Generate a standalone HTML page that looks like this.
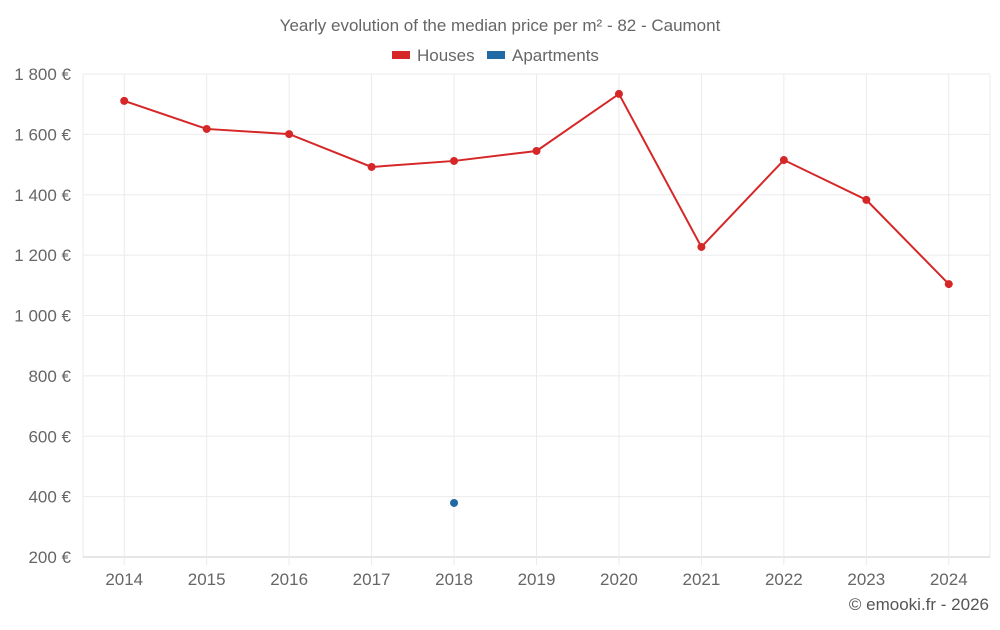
<!DOCTYPE html>
<html><head><meta charset="utf-8"><style>
body{margin:0;background:#fff;font-family:"Liberation Sans",sans-serif;}
svg text{font-family:"Liberation Sans",sans-serif;}
</style></head><body>
<svg id="chart" width="1000" height="625" xmlns="http://www.w3.org/2000/svg">
<text x="500" y="31" text-anchor="middle" font-size="17" fill="#666">Yearly evolution of the median price per m² - 82 - Caumont</text>
<g><rect x="392" y="51" width="18" height="8" fill="#d62728"/><text x="417" y="61" font-size="17" fill="#666">Houses</text></g>
<g><rect x="487" y="51" width="18" height="8" fill="#1f6aa5"/><text x="512" y="61" font-size="17" fill="#666">Apartments</text></g>
<g id="grid"></g><g id="axes"></g><g id="marks"></g>
<text x="989" y="610" text-anchor="end" font-size="17" fill="#555">© emooki.fr - 2026</text>
</svg>
<script>
const categories=["2014","2015","2016","2017","2018","2019","2020","2021","2022","2023","2024"];
const houses=[1711,1618,1601,1492,1512,1545,1734,1227,1515,1383,1104];
const apartments=[null,null,null,null,379,null,null,null,null,null,null];
const yTicks=[200,400,600,800,1000,1200,1400,1600,1800];
const yTickLabels=["200 €","400 €","600 €","800 €","1 000 €","1 200 €","1 400 €","1 600 €","1 800 €"];
const NS="http://www.w3.org/2000/svg";
const L=83,R=990,T=74,B=557;
const band=(R-L)/categories.length;
const x=i=>L+band*(i+0.5);
const y=v=>B-(v-200)/(1800-200)*(B-T);
function mk(tag,attrs,parent){const e=document.createElementNS(NS,tag);for(const k in attrs)e.setAttribute(k,attrs[k]);document.getElementById(parent).appendChild(e);return e;}
const lb=mk('line',{x1:L,x2:L,y1:T,y2:B,stroke:'#ebebeb'},'grid');


const rb=mk('line',{x1:R,x2:R,y1:T,y2:B,stroke:'#ebebeb'},'grid');


yTicks.forEach((t,i)=>{
 const g=mk('line',{x1:L,x2:R,y1:y(t),y2:y(t),stroke:i===0?'#ccc':'#ebebeb','stroke-width':1},'grid');
 
 
 const tx=mk('text',{x:71,y:y(t)+6,'text-anchor':'end','font-size':17,fill:'#666'},'axes');
 tx.textContent=yTickLabels[i];
 
 
});
categories.forEach((c,i)=>{
 const g=mk('line',{x1:x(i),x2:x(i),y1:T,y2:B+8,stroke:'#ebebeb'},'grid');
 
 
 const tx=mk('text',{x:x(i),y:585,'text-anchor':'middle','font-size':17,fill:'#666'},'axes');
 tx.textContent=c;
 
 
});
const pts=houses.map((v,i)=>x(i)+','+y(v)).join(' ');
const pl=mk('polyline',{points:pts,fill:'none',stroke:'#d62728','stroke-width':2},'marks');


houses.forEach((v,i)=>{
 const c=mk('circle',{cx:x(i),cy:y(v),r:4,fill:'#d62728'},'marks');
 
 
});
apartments.forEach((v,i)=>{
 if(v==null)return;
 const c=mk('circle',{cx:x(i),cy:y(v),r:4,fill:'#1f6aa5'},'marks');
 
 
});
</script>
</body></html>
